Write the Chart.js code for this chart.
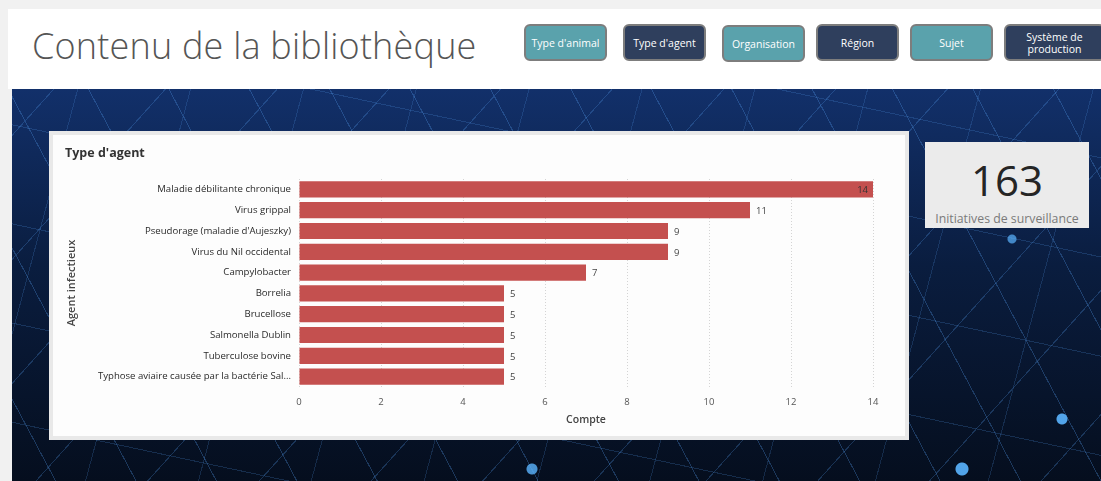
<!DOCTYPE html>
<html>
<head>
<meta charset="utf-8">
<script src="https://cdn.jsdelivr.net/npm/chart.js@4/dist/chart.umd.min.js"></script>
<style>
  html, body { margin: 0; padding: 0; }
  body {
    width: 1101px; height: 481px; overflow: hidden; position: relative;
    background: #f1f1f1; font-family: 'Open Sans', 'Noto Sans', sans-serif;
  }
  #header {
    position: absolute; left: 8px; top: 9px; width: 1093px; height: 80px; background: #fff;
  }
  #header h1 {
    position: absolute; left: 24px; top: 12px; margin: 0;
    font-family: 'Open Sans', sans-serif; font-weight: 300; font-size: 36px; color: #555;
    letter-spacing: 0.2px;
  }
  .btn {
    position: absolute; top: 15px; width: 79px; height: 33px; border: 2px solid #7d7d7d;
    border-radius: 6px; color: #fff; font-size: 10.5px; line-height: 12px;
    display: flex; align-items: center; justify-content: center; text-align: center;
  }
  .teal { background: #5aa2ac; }
  .navy { background: #2f3f5d; }
  #bg {
    position: absolute; left: 12px; top: 89px; width: 1089px; height: 392px;
    background:
      radial-gradient(circle at 950px 380px, rgba(90,180,255,0.9) 0 6px, transparent 7px),
      radial-gradient(circle at 1050px 330px, rgba(90,180,255,0.9) 0 5px, transparent 6px),
      radial-gradient(circle at 520px 380px, rgba(90,180,255,0.8) 0 5px, transparent 6px),
      radial-gradient(circle at 1000px 150px, rgba(90,180,255,0.7) 0 4px, transparent 5px),
      repeating-linear-gradient(62deg, transparent 0 38px, rgba(80,150,230,0.3) 38px 39px, transparent 39px 71px),
      repeating-linear-gradient(-48deg, transparent 0 44px, rgba(80,150,230,0.27) 44px 45px, transparent 45px 83px),
      repeating-linear-gradient(12deg, transparent 0 57px, rgba(80,150,230,0.22) 57px 58px, transparent 58px 97px),
      repeating-linear-gradient(105deg, transparent 0 63px, rgba(80,150,230,0.2) 63px 64px, transparent 64px 109px),
      linear-gradient(180deg, #12306a 0%, #0a1d3f 45%, #050e1e 100%);
  }
  #panel {
    position: absolute; left: 49px; top: 131px; width: 852px; height: 301px;
    border: 4px solid rgba(232,232,232,0.95); background: #fdfdfd;
  }
  #card {
    position: absolute; left: 925px; top: 142px; width: 164px; height: 86px; background: #ebebeb;
    text-align: center;
  }
  #card .num { position: absolute; left: 0; right: 0; top: 12px; font-size: 42px; color: #252525; line-height: 52px; }
  #card .lbl { position: absolute; left: 0; right: 0; top: 68px; font-size: 12.3px; color: #7a7a7a; }
</style>
</head>
<body>
<div id="header">
  <h1>Contenu de la bibliothèque</h1>
  <div class="btn teal" style="left:516px">Type d'animal</div>
  <div class="btn navy" style="left:615px">Type d'agent</div>
  <div class="btn teal" style="left:714px;top:16px">Organisation</div>
  <div class="btn navy" style="left:808px">Région</div>
  <div class="btn teal" style="left:902px">Sujet</div>
  <div class="btn navy" style="left:996px;width:97px">Système de<br>production</div>
</div>
<div id="bg"></div>
<div id="panel"><canvas id="agentChart" width="852" height="301"></canvas></div>
<div id="card"><div class="num">163</div><div class="lbl">Initiatives de surveillance</div></div>

<script>
// data
const agents = [
  'Maladie débilitante chronique',
  'Virus grippal',
  "Pseudorage (maladie d'Aujeszky)",
  'Virus du Nil occidental',
  'Campylobacter',
  'Borrelia',
  'Brucellose',
  'Salmonella Dublin',
  'Tuberculose bovine',
  'Typhose aviaire causée par la bactérie Sal...'
];
const counts = [14, 11, 9, 9, 7, 5, 5, 5, 5, 5];
const xTicks = [0, 2, 4, 6, 8, 10, 12, 14];

const labelFont = "'Open Sans', 'Noto Sans', sans-serif";

// value labels at the end of each bar (inside when there is no room)
const barLabels = {
  id: 'barLabels',
  afterDatasetsDraw(chart) {
    const c = chart.ctx;
    const meta = chart.getDatasetMeta(0);
    c.save();
    c.font = '9.5px ' + labelFont;
    c.textBaseline = 'middle';
    meta.data.forEach((bar, i) => {
      const txt = String(counts[i]);
      const w = c.measureText(txt).width;
      if (bar.x + 6 + w > chart.chartArea.right) {
        c.fillStyle = '#333';
        c.textAlign = 'right';
        c.fillText(txt, bar.x - 5, bar.y + 1);
      } else {
        c.fillStyle = '#444';
        c.textAlign = 'left';
        c.fillText(txt, bar.x + 6, bar.y + 1);
      }
    });
    c.restore();
  }
};

const ctx = document.getElementById('agentChart').getContext('2d');
const agentChart = new Chart(ctx, {
  type: 'bar',
  data: {
    labels: agents,
    datasets: [{
      label: 'Compte',
      data: counts,
      backgroundColor: '#c4504f',
      barPercentage: 0.78,
      categoryPercentage: 1
    }]
  },
  options: {
    indexAxis: 'y',
    responsive: false,
    animation: false,
    layout: { padding: { left: 12, right: 32, top: 0, bottom: 6 } },
    plugins: {
      legend: { display: false },
      tooltip: { enabled: false },
      title: {
        display: true,
        text: "Type d'agent",
        align: 'start',
        color: '#333',
        font: { family: labelFont, size: 12.5, weight: 'bold' },
        padding: { top: 11, bottom: 18 }
      }
    },
    scales: {
      x: {
        min: 0,
        max: 14,
        afterBuildTicks: (scale) => { scale.ticks = xTicks.map(v => ({ value: v })); },
        afterFit: (scale) => { scale.height = 43; },
        grid: { drawTicks: false, color: '#d4d4d4', lineWidth: 1 },
        border: { display: false, dash: [1, 2] },
        ticks: { color: '#555', font: { family: labelFont, size: 9.5 }, padding: 10 },
        title: {
          display: true, text: 'Compte', color: '#444',
          font: { family: labelFont, size: 10.5, weight: '600' }, padding: { top: 2 }
        }
      },
      y: {
        afterFit: (scale) => { scale.width = 234; },
        grid: { display: false, drawTicks: false },
        border: { display: false },
        ticks: { color: '#2a2a2a', font: { family: labelFont, size: 9.6 }, padding: 8, autoSkip: false },
        title: {
          display: true, text: 'Agent infectieux', color: '#444',
          font: { family: labelFont, size: 11, weight: '600' }, padding: 0
        }
      }
    }
  },
  plugins: [barLabels]
});
</script>
</body>
</html>
